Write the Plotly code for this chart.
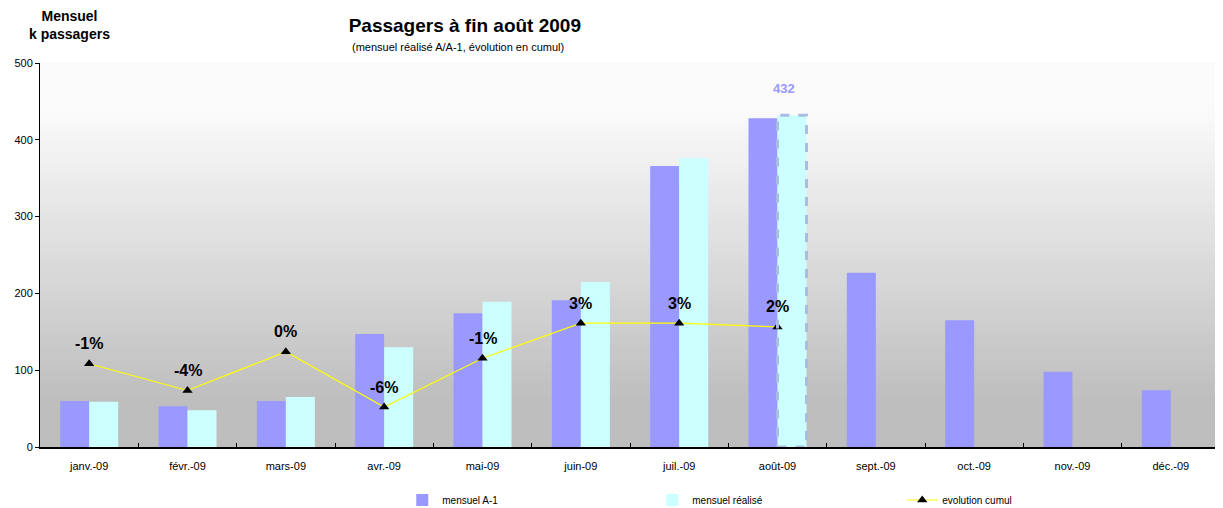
import plotly.graph_objects as go

months = ["janv.-09", "févr.-09", "mars-09", "avr.-09", "mai-09", "juin-09",
          "juil.-09", "août-09", "sept.-09", "oct.-09", "nov.-09", "déc.-09"]
mensuel_a1 = [60, 53, 60, 147, 174, 191, 366, 428, 227, 165, 98, 74]
mensuel_realise = [59, 48, 65, 130, 189, 215, 376, 432]
evol_cumul = [-1.3, -4.2, 0.0, -6.0, -0.7, 3.1, 3.1, 2.7]
evol_labels = ["-1%", "-4%", "0%", "-6%", "-1%", "3%", "3%", "2%"]
highlight_month = "août-09"
highlight_value = 432

FONT = "Liberation Sans, Arial, sans-serif"
NARROW = "Liberation Sans Narrow, Arial Narrow, Liberation Sans, Arial, sans-serif"

fig = go.Figure()
fig.add_trace(go.Bar(x=months, y=mensuel_a1, name="mensuel A-1",
                     marker=dict(color="#9999ff", line=dict(width=0))))
fig.add_trace(go.Bar(x=months[:len(mensuel_realise)], y=mensuel_realise, name="mensuel réalisé",
                     marker=dict(color="#ccffff", line=dict(width=0))))
fig.add_trace(go.Scatter(x=months[:len(evol_cumul)], y=evol_cumul, name="evolution cumul",
                         yaxis="y2", mode="lines+markers",
                         line=dict(color="#ffff00", width=1.2),
                         marker=dict(symbol="triangle-up", color="black", size=9)))

# background gradient (top near white, bottom grey)
def grey_at(t):
    if t < 0.12:
        return 251
    if t > 0.88:
        return 190
    return 251 + (190 - 251) * (t - 0.12) / 0.76

shapes = []
n = 90
for i in range(n):
    g = int(round(grey_at((i + 0.5) / n)))
    shapes.append(dict(type="rect", xref="paper", yref="paper", x0=0, x1=1,
                       y0=1 - (i + 1) / n, y1=min(1, 1 - i / n + 0.002), layer="below",
                       line=dict(width=0), fillcolor="rgb(%d,%d,%d)" % (g, g, g)))
# dashed outline on highlighted bar
shapes.append(dict(type="rect", xref="x", yref="y", x0=highlight_month, x1=highlight_month,
                   x0shift=0.0, x1shift=0.295, y0=0, y1=highlight_value,
                   line=dict(color="#a9bde3", width=3, dash="dash"), layer="above"))

annotations = []
for m, v, lab in zip(months, evol_cumul, evol_labels):
    annotations.append(dict(x=m, y=v, xref="x", yref="y2", text="<b>%s</b>" % lab,
                            showarrow=False, yshift=20,
                            font=dict(family=FONT, size=16, color="black")))
annotations.append(dict(x=highlight_month, y=highlight_value, xref="x", yref="y",
                        text="<b>%d</b>" % highlight_value, showarrow=False, yshift=27, xshift=6,
                        font=dict(family=FONT, size=13, color="#9999ff")))
annotations.append(dict(xref="paper", yref="paper", x=0.0254, y=1.099, xanchor="center", yanchor="middle",
                        text="<b>Mensuel<br>k passagers</b>", showarrow=False, align="center",
                        font=dict(family=NARROW, size=14, color="black")))
annotations.append(dict(xref="paper", yref="paper", x=0.354, y=1.042, xanchor="center", yanchor="middle",
                        text="(mensuel réalisé A/A-1, évolution en cumul)", showarrow=False,
                        font=dict(family=NARROW, size=11, color="black")))

fig.update_layout(
    width=1215, height=500,
    margin=dict(l=32, r=3, t=55, b=61, autoexpand=False),
    paper_bgcolor="white", plot_bgcolor="rgba(0,0,0,0)",
    title=dict(text="<b>Passagers à fin août 2009</b>", x=0.376, xanchor="center",
               y=0.966, yanchor="middle", font=dict(family=NARROW, size=19, color="black")),
    barmode="group", bargap=0.41, bargroupgap=0,
    shapes=shapes, annotations=annotations,
    font=dict(family=FONT, size=11, color="black"),
    xaxis=dict(range=[-0.5, len(months) - 0.5], showline=True, linecolor="black", linewidth=1.5,
               ticks="inside", ticklen=4, ticklabelstandoff=8,
               tickson="boundaries", tickcolor="black", showgrid=False,
               tickfont=dict(family=FONT, size=11)),
    yaxis=dict(range=[0, 500], dtick=100, showline=True, linecolor="black", linewidth=1,
               ticks="outside", ticklen=4, tickcolor="black", showgrid=False, zeroline=False,
               tickfont=dict(family=FONT, size=11)),
    yaxis2=dict(range=[-10.333, 31.333], overlaying="y", side="right", visible=False),
    legend=dict(orientation="h", x=0.307, y=-0.138, xanchor="left", yanchor="middle",
                entrywidth=205, entrywidthmode="pixels", traceorder="normal",
                font=dict(family=NARROW, size=10, color="black"), bgcolor="rgba(0,0,0,0)"),
)

fig.write_html("out.html")
